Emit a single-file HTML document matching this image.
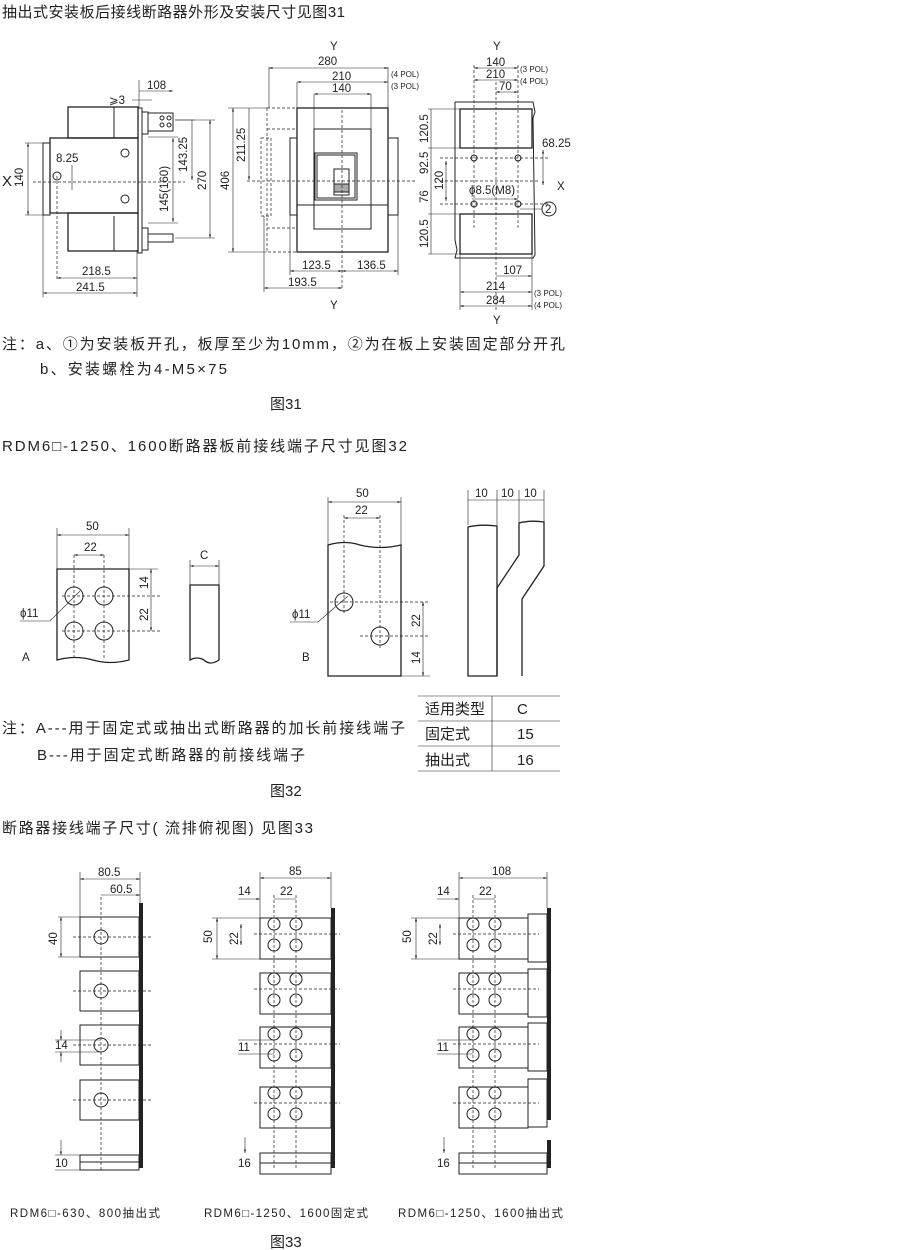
<!DOCTYPE html>
<html><head><meta charset="utf-8"><style>
body{margin:0;background:#fff;}
svg{display:block;font-family:"Liberation Sans","Noto Sans CJK SC",sans-serif;}
.t{font-size:15px;fill:#222;}
.s{font-size:11.5px;fill:#222;}
.xs{font-size:8px;fill:#222;}
line,rect,path,circle,polyline{stroke:#222;fill:none;stroke-width:1;}
.d{stroke-dasharray:3,2;stroke-width:.7;}
.th{stroke-width:1.3;}
.b{stroke-width:4;}
.dl{stroke-width:.6;}
</style></head><body>
<svg width="900" height="1250" viewBox="0 0 900 1250">
<defs><marker id="a" viewBox="0 0 10 10" refX="10" refY="5" markerWidth="6" markerHeight="6" orient="auto-start-reverse"><path d="M0,2L10,5L0,8z" style="fill:#222;stroke:none"/></marker></defs>
<text class="t" x="2" y="17" textLength="343" lengthAdjust="spacing">抽出式安装板后接线断路器外形及安装尺寸见图31</text>

<!-- Fig31 left view -->
<rect x="68" y="107" width="70" height="31" class="th"/>
<line x1="114" y1="107" x2="114" y2="138"/>
<rect x="50" y="138" width="88" height="75" class="th"/>
<rect x="43" y="143" width="7" height="72"/>
<rect x="68" y="213" width="70" height="38" class="th"/>
<line x1="114" y1="216" x2="114" y2="251"/>
<rect x="138" y="108" width="4" height="145"/>
<rect x="142" y="112" width="6" height="22"/><rect x="148" y="113" width="25" height="18"/>
<circle cx="162" cy="118" r="2"/><circle cx="169" cy="118" r="2"/><circle cx="162" cy="125" r="2"/><circle cx="169" cy="125" r="2"/>
<rect x="142" y="228" width="6" height="22"/><rect x="148" y="234" width="25" height="8"/>
<circle cx="125" cy="153" r="4"/><circle cx="125" cy="199" r="4"/><circle cx="57" cy="176" r="4"/>
<line x1="33" y1="182" x2="185" y2="182" class="d"/><line x1="57" y1="176" x2="57" y2="280" class="d"/>
<text class="t" x="2" y="186">X</text>
<line x1="25" y1="143" x2="45" y2="143" class="dl"/><line x1="25" y1="215" x2="45" y2="215" class="dl"/>
<line x1="28" y1="143" x2="28" y2="215" class="dl" marker-start="url(#a)" marker-end="url(#a)"/>
<text class="s" transform="translate(23,187) rotate(-90)">140</text>
<text class="s" x="56" y="162">8.25</text>
<line x1="72" y1="165" x2="72" y2="190" class="dl"/>
<line x1="148" y1="137" x2="178" y2="137" class="dl"/><line x1="148" y1="223" x2="178" y2="223" class="dl"/>
<line x1="173" y1="138" x2="173" y2="222" class="dl" marker-start="url(#a)" marker-end="url(#a)"/>
<text class="s" transform="translate(168,212) rotate(-90)">145(160)</text>
<line x1="175" y1="120" x2="195" y2="120" class="dl"/>
<line x1="192" y1="120" x2="192" y2="180" class="dl" marker-end="url(#a)"/>
<text class="s" transform="translate(187,172) rotate(-90)">143.25</text>
<line x1="175" y1="120" x2="215" y2="120" class="dl"/><line x1="175" y1="238" x2="215" y2="238" class="dl"/>
<line x1="210" y1="120" x2="210" y2="238" class="dl" marker-start="url(#a)" marker-end="url(#a)"/>
<text class="s" transform="translate(206,190) rotate(-90)">270</text>
<line x1="139" y1="80" x2="139" y2="108" class="dl"/>
<line x1="139" y1="91" x2="173" y2="91" class="dl" marker-end="url(#a)"/>
<text class="s" x="147" y="89">108</text>
<line x1="132" y1="100" x2="152" y2="100" class="dl"/>
<text class="s" x="109" y="104">⩾3</text>
<line x1="57" y1="278" x2="137" y2="278" class="dl" marker-start="url(#a)" marker-end="url(#a)"/>
<text class="s" x="82" y="275">218.5</text>
<line x1="43" y1="215" x2="43" y2="297" class="dl"/><line x1="137" y1="250" x2="137" y2="297" class="dl"/>
<line x1="43" y1="293" x2="137" y2="293" class="dl" marker-start="url(#a)" marker-end="url(#a)"/>
<text class="s" x="76" y="291">241.5</text>

<!-- Fig31 middle -->
<text class="s" x="330" y="50">Y</text>
<rect x="267" y="108" width="30" height="144" class="d"/>
<line x1="267" y1="129" x2="297" y2="129" class="d"/><line x1="267" y1="228" x2="297" y2="228" class="d"/>
<rect x="261" y="138" width="10" height="78" class="d"/>
<rect x="297" y="108" width="91" height="144" class="th"/>
<line x1="314" y1="129" x2="371" y2="129"/><line x1="297" y1="205" x2="388" y2="205"/>
<rect x="314" y="129" width="57" height="100"/>
<rect x="290" y="138" width="7" height="77"/><rect x="388" y="138" width="10" height="77"/>
<rect x="315" y="153" width="42" height="47"/><rect x="317" y="155" width="38" height="43"/>
<rect x="334" y="169" width="15" height="26"/><rect x="334" y="184" width="15" height="8" style="fill:#aaa"/>
<line x1="342" y1="110" x2="342" y2="290" class="d"/>
<line x1="247" y1="181" x2="415" y2="181" class="d"/>
<line x1="269" y1="67" x2="269" y2="108" class="dl"/><line x1="388" y1="67" x2="388" y2="108" class="dl"/>
<line x1="269" y1="68" x2="388" y2="68" class="dl" marker-start="url(#a)" marker-end="url(#a)"/>
<text class="s" x="318" y="65">280</text>
<line x1="297" y1="82" x2="388" y2="82" class="dl" marker-start="url(#a)" marker-end="url(#a)"/>
<text class="s" x="332" y="80">210</text>
<text class="xs" x="391" y="77">(4 POL)</text><text class="xs" x="391" y="89">(3 POL)</text>
<line x1="314" y1="94" x2="371" y2="94" class="dl" marker-start="url(#a)" marker-end="url(#a)"/>
<text class="s" x="332" y="92">140</text>
<line x1="297" y1="82" x2="297" y2="108" class="dl"/><line x1="314" y1="94" x2="314" y2="129" class="dl"/><line x1="371" y1="94" x2="371" y2="129" class="dl"/>
<line x1="228" y1="108" x2="267" y2="108" class="dl"/><line x1="228" y1="252" x2="267" y2="252" class="dl"/>
<line x1="233" y1="108" x2="233" y2="252" class="dl" marker-start="url(#a)" marker-end="url(#a)"/>
<text class="s" transform="translate(229,190) rotate(-90)">406</text>
<line x1="249" y1="108" x2="249" y2="180" class="dl" marker-end="url(#a)"/>
<text class="s" transform="translate(245,162) rotate(-90)">211.25</text>
<line x1="290" y1="215" x2="290" y2="275" class="dl"/><line x1="398" y1="215" x2="398" y2="275" class="dl"/><line x1="264" y1="216" x2="264" y2="292" class="dl"/>
<line x1="290" y1="271" x2="342" y2="271" class="dl" marker-start="url(#a)" marker-end="url(#a)"/>
<line x1="342" y1="271" x2="398" y2="271" class="dl" marker-start="url(#a)" marker-end="url(#a)"/>
<text class="s" x="302" y="269">123.5</text><text class="s" x="357" y="269">136.5</text>
<line x1="264" y1="288" x2="342" y2="288" class="dl" marker-start="url(#a)" marker-end="url(#a)"/>
<text class="s" x="288" y="286">193.5</text>
<text class="s" x="330" y="309">Y</text>

<!-- Fig31 right -->
<text class="s" x="493" y="50">Y</text>
<path d="M455,102 L533,102 L535,112 L533,118 L535,255 L533,258 L455,258 L457,250 L455,240 L455,102"/>
<rect x="460" y="109" width="72" height="39" class="th"/>
<rect x="460" y="214" width="72" height="40" class="th"/>
<circle cx="474" cy="158" r="3"/><circle cx="518" cy="158" r="3"/><circle cx="474" cy="204" r="3"/><circle cx="518" cy="204" r="3"/>
<line x1="474" y1="65" x2="474" y2="230" class="d"/><line x1="518" y1="65" x2="518" y2="230" class="d"/>
<line x1="496" y1="82" x2="496" y2="310" class="d"/>
<line x1="440" y1="158" x2="550" y2="158" class="d"/><line x1="440" y1="181" x2="540" y2="181" class="d"/><line x1="440" y1="204" x2="550" y2="204" class="d"/>
<line x1="474" y1="68" x2="518" y2="68" class="dl" marker-start="url(#a)" marker-end="url(#a)"/>
<line x1="474" y1="80" x2="518" y2="80" class="dl" marker-start="url(#a)" marker-end="url(#a)"/>
<line x1="496" y1="92" x2="518" y2="92" class="dl" marker-start="url(#a)" marker-end="url(#a)"/>
<text class="s" x="486" y="66">140</text><text class="s" x="486" y="78">210</text><text class="s" x="499" y="90">70</text>
<text class="xs" x="520" y="72">(3 POL)</text><text class="xs" x="520" y="84">(4 POL)</text>
<line x1="428" y1="109" x2="460" y2="109" class="dl"/><line x1="428" y1="148" x2="460" y2="148" class="dl"/><line x1="428" y1="214" x2="460" y2="214" class="dl"/><line x1="428" y1="254" x2="460" y2="254" class="dl"/>
<line x1="431" y1="109" x2="431" y2="254" class="dl"/>
<text class="s" transform="translate(428,143) rotate(-90)">120.5</text>
<text class="s" transform="translate(428,174) rotate(-90)">92.5</text>
<text class="s" transform="translate(428,203) rotate(-90)">76</text>
<text class="s" transform="translate(428,248) rotate(-90)">120.5</text>
<line x1="446" y1="161" x2="446" y2="201" class="dl" marker-start="url(#a)" marker-end="url(#a)"/>
<text class="s" transform="translate(443,190) rotate(-90)">120</text>
<line x1="543" y1="150" x2="543" y2="185" class="dl" marker-start="url(#a)" marker-end="url(#a)"/>
<text class="s" x="542" y="147">68.25</text>
<text class="s" x="557" y="190">X</text>
<text class="s" x="469" y="194">ϕ8.5(M8)</text>
<line x1="472" y1="199" x2="518" y2="199" class="dl" marker-end="url(#a)"/>
<line x1="520" y1="209" x2="542" y2="209" class="dl"/>
<circle cx="549" cy="209" r="7"/><text class="s" x="545" y="213">2</text>
<line x1="460" y1="254" x2="460" y2="310" class="dl"/><line x1="532" y1="254" x2="532" y2="310" class="dl"/>
<line x1="496" y1="276" x2="532" y2="276" class="dl" marker-end="url(#a)"/>
<text class="s" x="503" y="274">107</text>
<line x1="460" y1="292" x2="532" y2="292" class="dl" marker-start="url(#a)" marker-end="url(#a)"/>
<line x1="460" y1="306" x2="532" y2="306" class="dl" marker-start="url(#a)" marker-end="url(#a)"/>
<text class="s" x="486" y="290">214</text><text class="s" x="486" y="304">284</text>
<text class="xs" x="534" y="296">(3 POL)</text><text class="xs" x="534" y="308">(4 POL)</text>
<text class="s" x="493" y="324">Y</text>

<text class="t" x="2" y="349" textLength="563" lengthAdjust="spacing">注：a、①为安装板开孔，板厚至少为10mm，②为在板上安装固定部分开孔</text>
<text class="t" x="40" y="374" textLength="187" lengthAdjust="spacing">b、安装螺栓为4-M5×75</text>
<text class="t" x="270" y="409">图31</text>
<text class="t" x="2" y="451" textLength="405" lengthAdjust="spacing">RDM6□-1250、1600断路器板前接线端子尺寸见图32</text>

<!-- Fig32 -->
<path d="M57,569 L129,569 L129,660 Q110,665 93,660 Q75,655 57,660 Z" class="th"/>
<circle cx="74" cy="596" r="9"/><circle cx="104" cy="596" r="9"/><circle cx="74" cy="631" r="9"/><circle cx="104" cy="631" r="9"/>
<line x1="74" y1="555" x2="74" y2="660" class="d"/><line x1="104" y1="555" x2="104" y2="660" class="d"/>
<line x1="62" y1="596" x2="160" y2="596" class="d"/><line x1="62" y1="631" x2="160" y2="631" class="d"/>
<line x1="57" y1="528" x2="57" y2="569" class="dl"/><line x1="129" y1="528" x2="129" y2="569" class="dl"/>
<line x1="57" y1="535" x2="129" y2="535" class="dl" marker-start="url(#a)" marker-end="url(#a)"/><text class="s" x="86" y="530">50</text>
<line x1="74" y1="555" x2="104" y2="555" class="dl" marker-start="url(#a)" marker-end="url(#a)"/><text class="s" x="84" y="551">22</text>
<line x1="129" y1="569" x2="158" y2="569" class="dl"/>
<line x1="151" y1="569" x2="151" y2="631" class="dl" marker-start="url(#a)" marker-end="url(#a)"/>
<text class="s" transform="translate(148,589) rotate(-90)">14</text><text class="s" transform="translate(148,621) rotate(-90)">22</text>
<polyline points="20,621 50,621 80,591" class="dl"/><text class="s" x="20" y="617">ϕ11</text>
<text class="s" x="22" y="661">A</text>
<path d="M190,585 L219,585 L219,660 Q210,666 204,660 Q197,656 190,660 Z" class="th"/>
<line x1="190" y1="560" x2="190" y2="585" class="dl"/><line x1="219" y1="560" x2="219" y2="585" class="dl"/>
<line x1="190" y1="566" x2="219" y2="566" class="dl" marker-start="url(#a)" marker-end="url(#a)"/><text class="s" x="200" y="559">C</text>
<path d="M328,545 Q345,540 360,545 Q380,550 401,545 L401,676 L328,676 Z" class="th"/>
<circle cx="344" cy="602" r="9"/><circle cx="380" cy="636" r="9"/>
<line x1="344" y1="515" x2="344" y2="615" class="d"/><line x1="380" y1="515" x2="380" y2="650" class="d"/>
<line x1="330" y1="602" x2="430" y2="602" class="d"/><line x1="360" y1="636" x2="430" y2="636" class="d"/>
<line x1="328" y1="497" x2="328" y2="545" class="dl"/><line x1="401" y1="497" x2="401" y2="545" class="dl"/>
<line x1="328" y1="502" x2="401" y2="502" class="dl" marker-start="url(#a)" marker-end="url(#a)"/><text class="s" x="356" y="497">50</text>
<line x1="344" y1="518" x2="380" y2="518" class="dl" marker-start="url(#a)" marker-end="url(#a)"/><text class="s" x="355" y="514">22</text>
<line x1="401" y1="676" x2="430" y2="676" class="dl"/>
<line x1="423" y1="602" x2="423" y2="676" class="dl" marker-start="url(#a)" marker-end="url(#a)"/>
<text class="s" transform="translate(420,627) rotate(-90)">22</text><text class="s" transform="translate(420,664) rotate(-90)">14</text>
<polyline points="290,622 318,622 348,596" class="dl"/><text class="s" x="292" y="618">ϕ11</text>
<text class="s" x="302" y="661">B</text>
<path d="M468,527 Q480,524 497,526 L497,676 L468,676 Z" class="th"/>
<path d="M497,676 L497,588 L519,555 L519,523 Q530,520 544,522 L544,566 L522,599 L522,660 L522,676" class="th"/>
<line x1="468" y1="490" x2="468" y2="525" class="dl"/><line x1="497" y1="490" x2="497" y2="525" class="dl"/><line x1="519" y1="490" x2="519" y2="523" class="dl"/><line x1="544" y1="490" x2="544" y2="522" class="dl"/>
<line x1="468" y1="500" x2="544" y2="500" class="dl"/>
<text class="s" x="475" y="497">10</text><text class="s" x="501" y="497">10</text><text class="s" x="524" y="497">10</text>

<text class="t" x="2" y="733" textLength="403" lengthAdjust="spacing">注：A---用于固定式或抽出式断路器的加长前接线端子</text>
<text class="t" x="37" y="760" textLength="268" lengthAdjust="spacing">B---用于固定式断路器的前接线端子</text>
<line x1="418" y1="696" x2="560" y2="696" class="dl"/><line x1="418" y1="721" x2="560" y2="721" class="dl"/><line x1="418" y1="746" x2="560" y2="746" class="dl"/><line x1="418" y1="771" x2="560" y2="771" class="dl"/>
<line x1="492" y1="696" x2="492" y2="771" class="dl"/>
<text class="t" x="425" y="714">适用类型</text><text class="t" x="517" y="714">C</text>
<text class="t" x="425" y="739">固定式</text><text class="t" x="517" y="739">15</text>
<text class="t" x="425" y="765">抽出式</text><text class="t" x="517" y="765">16</text>
<text class="t" x="270" y="796">图32</text>
<text class="t" x="2" y="833" textLength="311" lengthAdjust="spacing">断路器接线端子尺寸(  流排俯视图)  见图33</text>

<!-- Fig33 col1 -->
<g>
<line x1="141" y1="903" x2="141" y2="1151" class="b"/>
<rect x="80" y="917" width="59" height="40"/><rect x="80" y="971" width="59" height="40"/><rect x="80" y="1025" width="59" height="40"/><rect x="80" y="1080" width="59" height="40"/>
<circle cx="101" cy="937" r="7"/><circle cx="101" cy="991" r="7"/><circle cx="101" cy="1045" r="7"/><circle cx="101" cy="1100" r="7"/>
<line x1="101" y1="897" x2="101" y2="1170" class="d"/>
<line x1="73" y1="937" x2="152" y2="937" class="d"/><line x1="73" y1="991" x2="152" y2="991" class="d"/><line x1="73" y1="1045" x2="152" y2="1045" class="d"/><line x1="73" y1="1100" x2="152" y2="1100" class="d"/>
<line x1="80" y1="872" x2="80" y2="917" class="dl"/><line x1="140" y1="872" x2="140" y2="903" class="dl"/>
<line x1="80" y1="879" x2="140" y2="879" class="dl" marker-start="url(#a)" marker-end="url(#a)"/><text class="s" x="98" y="876">80.5</text>
<line x1="101" y1="895" x2="140" y2="895" class="dl" marker-end="url(#a)"/><text class="s" x="110" y="893">60.5</text>
<line x1="58" y1="917" x2="80" y2="917" class="dl"/><line x1="58" y1="957" x2="80" y2="957" class="dl"/>
<line x1="61" y1="917" x2="61" y2="957" class="dl" marker-start="url(#a)" marker-end="url(#a)"/><text class="s" transform="translate(57,945) rotate(-90)">40</text>
<line x1="55" y1="1040" x2="101" y2="1040" class="dl"/><line x1="55" y1="1052" x2="101" y2="1052" class="dl"/>
<line x1="61" y1="1030" x2="61" y2="1040" class="dl" marker-end="url(#a)"/><line x1="61" y1="1062" x2="61" y2="1052" class="dl" marker-end="url(#a)"/>
<text class="s" x="55" y="1049">14</text>
<line x1="141" y1="1140" x2="141" y2="1168" class="b"/>
<rect x="80" y="1155" width="59" height="15"/><line x1="80" y1="1162" x2="139" y2="1162"/>
<line x1="61" y1="1140" x2="61" y2="1155" class="dl" marker-end="url(#a)"/><line x1="55" y1="1155" x2="80" y2="1155" class="dl"/><line x1="55" y1="1170" x2="80" y2="1170" class="dl"/>
<text class="s" x="55" y="1167">10</text>
<text class="s" x="10" y="1217" textLength="150" lengthAdjust="spacing">RDM6□-630、800抽出式</text>
</g>
<!-- col2 -->
<g>
<line x1="333" y1="908" x2="333" y2="1152" class="b"/>
<line x1="333" y1="1140" x2="333" y2="1168" class="b"/>
<rect x="260" y="918" width="71" height="41"/><rect x="260" y="973" width="71" height="41"/><rect x="260" y="1027" width="71" height="41"/><rect x="260" y="1087" width="71" height="41"/>
<g id="h2">
<circle cx="274" cy="924" r="6"/><circle cx="296" cy="924" r="6"/><circle cx="274" cy="945" r="6"/><circle cx="296" cy="945" r="6"/>
<line x1="254" y1="934" x2="340" y2="934" class="d"/>
</g>
<use href="#h2" y="55"/><use href="#h2" y="110"/><use href="#h2" y="169"/>
<line x1="274" y1="895" x2="274" y2="1170" class="d"/><line x1="296" y1="895" x2="296" y2="1170" class="d"/>
<line x1="260" y1="872" x2="260" y2="918" class="dl"/><line x1="331" y1="872" x2="331" y2="908" class="dl"/>
<line x1="260" y1="878" x2="331" y2="878" class="dl" marker-start="url(#a)" marker-end="url(#a)"/><text class="s" x="289" y="875">85</text>
<line x1="238" y1="899" x2="260" y2="899" class="dl" marker-end="url(#a)"/><text class="s" x="238" y="895">14</text>
<line x1="274" y1="899" x2="296" y2="899" class="dl"/><text class="s" x="280" y="895">22</text>
<line x1="212" y1="918" x2="260" y2="918" class="dl"/><line x1="212" y1="959" x2="260" y2="959" class="dl"/>
<line x1="217" y1="918" x2="217" y2="959" class="dl" marker-start="url(#a)" marker-end="url(#a)"/><text class="s" transform="translate(212,943) rotate(-90)">50</text>
<line x1="241" y1="924" x2="241" y2="945" class="dl" marker-start="url(#a)" marker-end="url(#a)"/><text class="s" transform="translate(238,945) rotate(-90)">22</text>
<line x1="238" y1="1040" x2="274" y2="1040" class="dl"/><line x1="238" y1="1054" x2="274" y2="1054" class="dl"/>
<text class="s" x="238" y="1051">11</text>
<rect x="260" y="1153" width="71" height="21"/><line x1="260" y1="1163" x2="331" y2="1163"/>
<line x1="245" y1="1137" x2="245" y2="1153" class="dl" marker-end="url(#a)"/>
<text class="s" x="238" y="1167">16</text>
<text class="s" x="204" y="1217" textLength="164" lengthAdjust="spacing">RDM6□-1250、1600固定式</text>
</g>
<!-- col3 -->
<g>
<line x1="549" y1="908" x2="549" y2="1120" class="b"/>
<line x1="549" y1="1140" x2="549" y2="1168" class="b"/>
<rect x="459" y="918" width="69" height="41"/><rect x="459" y="973" width="69" height="41"/><rect x="459" y="1027" width="69" height="41"/><rect x="459" y="1087" width="69" height="41"/>
<rect x="528" y="914" width="19" height="48"/><rect x="528" y="969" width="19" height="48"/><rect x="528" y="1023" width="19" height="48"/><rect x="528" y="1079" width="19" height="48"/>
<use href="#h2" x="199"/><use href="#h2" x="199" y="55"/><use href="#h2" x="199" y="110"/><use href="#h2" x="199" y="169"/>
<line x1="473" y1="895" x2="473" y2="1170" class="d"/><line x1="495" y1="895" x2="495" y2="1170" class="d"/>
<line x1="459" y1="872" x2="459" y2="918" class="dl"/><line x1="547" y1="872" x2="547" y2="908" class="dl"/>
<line x1="459" y1="878" x2="547" y2="878" class="dl" marker-start="url(#a)" marker-end="url(#a)"/><text class="s" x="492" y="875">108</text>
<line x1="437" y1="899" x2="459" y2="899" class="dl" marker-end="url(#a)"/><text class="s" x="437" y="895">14</text>
<line x1="473" y1="899" x2="495" y2="899" class="dl"/><text class="s" x="479" y="895">22</text>
<line x1="411" y1="918" x2="459" y2="918" class="dl"/><line x1="411" y1="959" x2="459" y2="959" class="dl"/>
<line x1="416" y1="918" x2="416" y2="959" class="dl" marker-start="url(#a)" marker-end="url(#a)"/><text class="s" transform="translate(411,943) rotate(-90)">50</text>
<line x1="440" y1="924" x2="440" y2="945" class="dl" marker-start="url(#a)" marker-end="url(#a)"/><text class="s" transform="translate(437,945) rotate(-90)">22</text>
<line x1="437" y1="1040" x2="473" y2="1040" class="dl"/><line x1="437" y1="1054" x2="473" y2="1054" class="dl"/>
<text class="s" x="437" y="1051">11</text>
<rect x="459" y="1153" width="88" height="21"/><line x1="459" y1="1163" x2="547" y2="1163"/>
<line x1="444" y1="1137" x2="444" y2="1153" class="dl" marker-end="url(#a)"/>
<text class="s" x="437" y="1167">16</text>
<text class="s" x="398" y="1217" textLength="165" lengthAdjust="spacing">RDM6□-1250、1600抽出式</text>
</g>
<text class="t" x="270" y="1247">图33</text>
</svg>
</body></html>
